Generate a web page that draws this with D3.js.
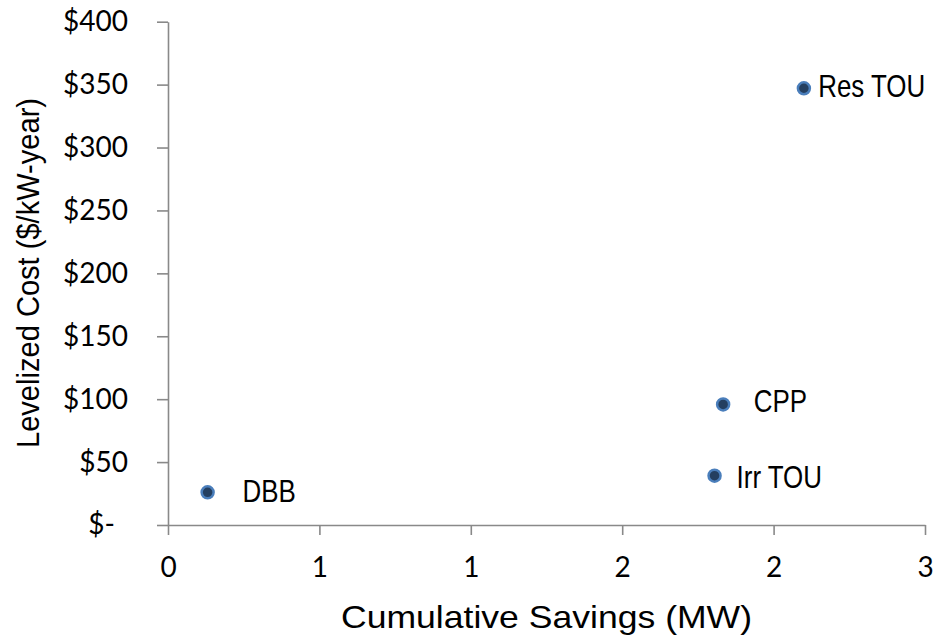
<!DOCTYPE html>
<html>
<head>
<meta charset="utf-8">
<script src="https://cdn.jsdelivr.net/npm/d3@7"></script>
<style>
  html, body { margin: 0; padding: 0; background: #ffffff; }
  svg { display: block; }
</style>
</head>
<body>
<svg id="chart" width="935" height="638"></svg>
<script>
// ---- data ----
const programs = ["DBB", "Irr TOU", "CPP", "Res TOU"];
const savingsMW = [0.157, 2.166, 2.20, 2.52];
const levelizedCost = [26.0, 39.2, 95.8, 347.1];

const xTickValues = [0, 0.6, 1.2, 1.8, 2.4, 3.0];
const xTickLabels = ["0", "1", "1", "2", "2", "3"];
const yTickValues = [0, 50, 100, 150, 200, 250, 300, 350, 400];
const yTickLabels = ["$-", "$50", "$100", "$150", "$200", "$250", "$300", "$350", "$400"];

const xTitle = "Cumulative Savings (MW)";
const yTitle = "Levelized Cost ($/kW-year)";

// ---- layout / style ----
const labelOffsets = [[35, 10], [22, 12.6], [30.7, 7.2], [14.3, 8.7]];
const axisColor = "#898989";
const tickFont = "Lato, 'Open Sans', sans-serif";
const textFont = "'Liberation Sans', Arial, sans-serif";
const labelSqueeze = 0.81;

const svg = d3.select("#chart");
const x = d3.scaleLinear().domain([0, 3]).range([168, 925]);
const y = d3.scaleLinear().domain([0, 400]).range([525, 21.7]);

// x axis
const gx = svg.append("g")
  .attr("transform", "translate(0,525)")
  .call(d3.axisBottom(x)
    .tickValues(xTickValues)
    .tickFormat((d, i) => xTickLabels[i])
    .tickSize(10).tickSizeOuter(0).tickPadding(22));

// y axis
const gy = svg.append("g")
  .attr("transform", "translate(168,0)")
  .call(d3.axisLeft(y)
    .tickValues(yTickValues)
    .tickFormat((d, i) => yTickLabels[i])
    .tickSize(11).tickSizeOuter(0).tickPadding(29));

[gx, gy].forEach(g => {
  g.selectAll(".domain, .tick line")
    .attr("stroke", axisColor).attr("stroke-width", 1.6);
  g.selectAll("text")
    .attr("fill", "#000").style("font-family", tickFont).style("font-size", "28px");
});
// accounting-format zero label sits left (trailing padding)
gy.selectAll(".tick text").filter(d => d === 0).attr("dx", -13);

// points
const pts = programs.map((p, i) => ({ name: p, x: savingsMW[i], y: levelizedCost[i], off: labelOffsets[i] }));

svg.append("g").selectAll("circle")
  .data(pts).join("circle")
  .attr("cx", d => x(d.x))
  .attr("cy", d => y(d.y))
  .attr("r", 6)
  .attr("fill", "#243f60")
  .attr("stroke", "#4a7ebb")
  .attr("stroke-width", 2.5);

// labels (condensed via horizontal scale)
svg.append("g").selectAll("text")
  .data(pts).join("text")
  .attr("transform", d => `translate(${x(d.x) + d.off[0]},${y(d.y) + d.off[1]}) scale(${labelSqueeze},1)`)
  .style("font-family", textFont)
  .style("font-size", "32px")
  .attr("fill", "#000")
  .text(d => d.name);

// axis titles
svg.append("text")
  .attr("x", 341).attr("y", 628)
  .style("font-family", textFont).style("font-size", "32px")
  .attr("fill", "#000")
  .attr("textLength", 411).attr("lengthAdjust", "spacingAndGlyphs")
  .text(xTitle);

svg.append("text")
  .attr("transform", "translate(39,448) rotate(-90)")
  .attr("x", 0).attr("y", 0)
  .style("font-family", textFont).style("font-size", "32px")
  .attr("fill", "#000")
  .attr("textLength", 350).attr("lengthAdjust", "spacingAndGlyphs")
  .text(yTitle);
</script>
</body>
</html>
